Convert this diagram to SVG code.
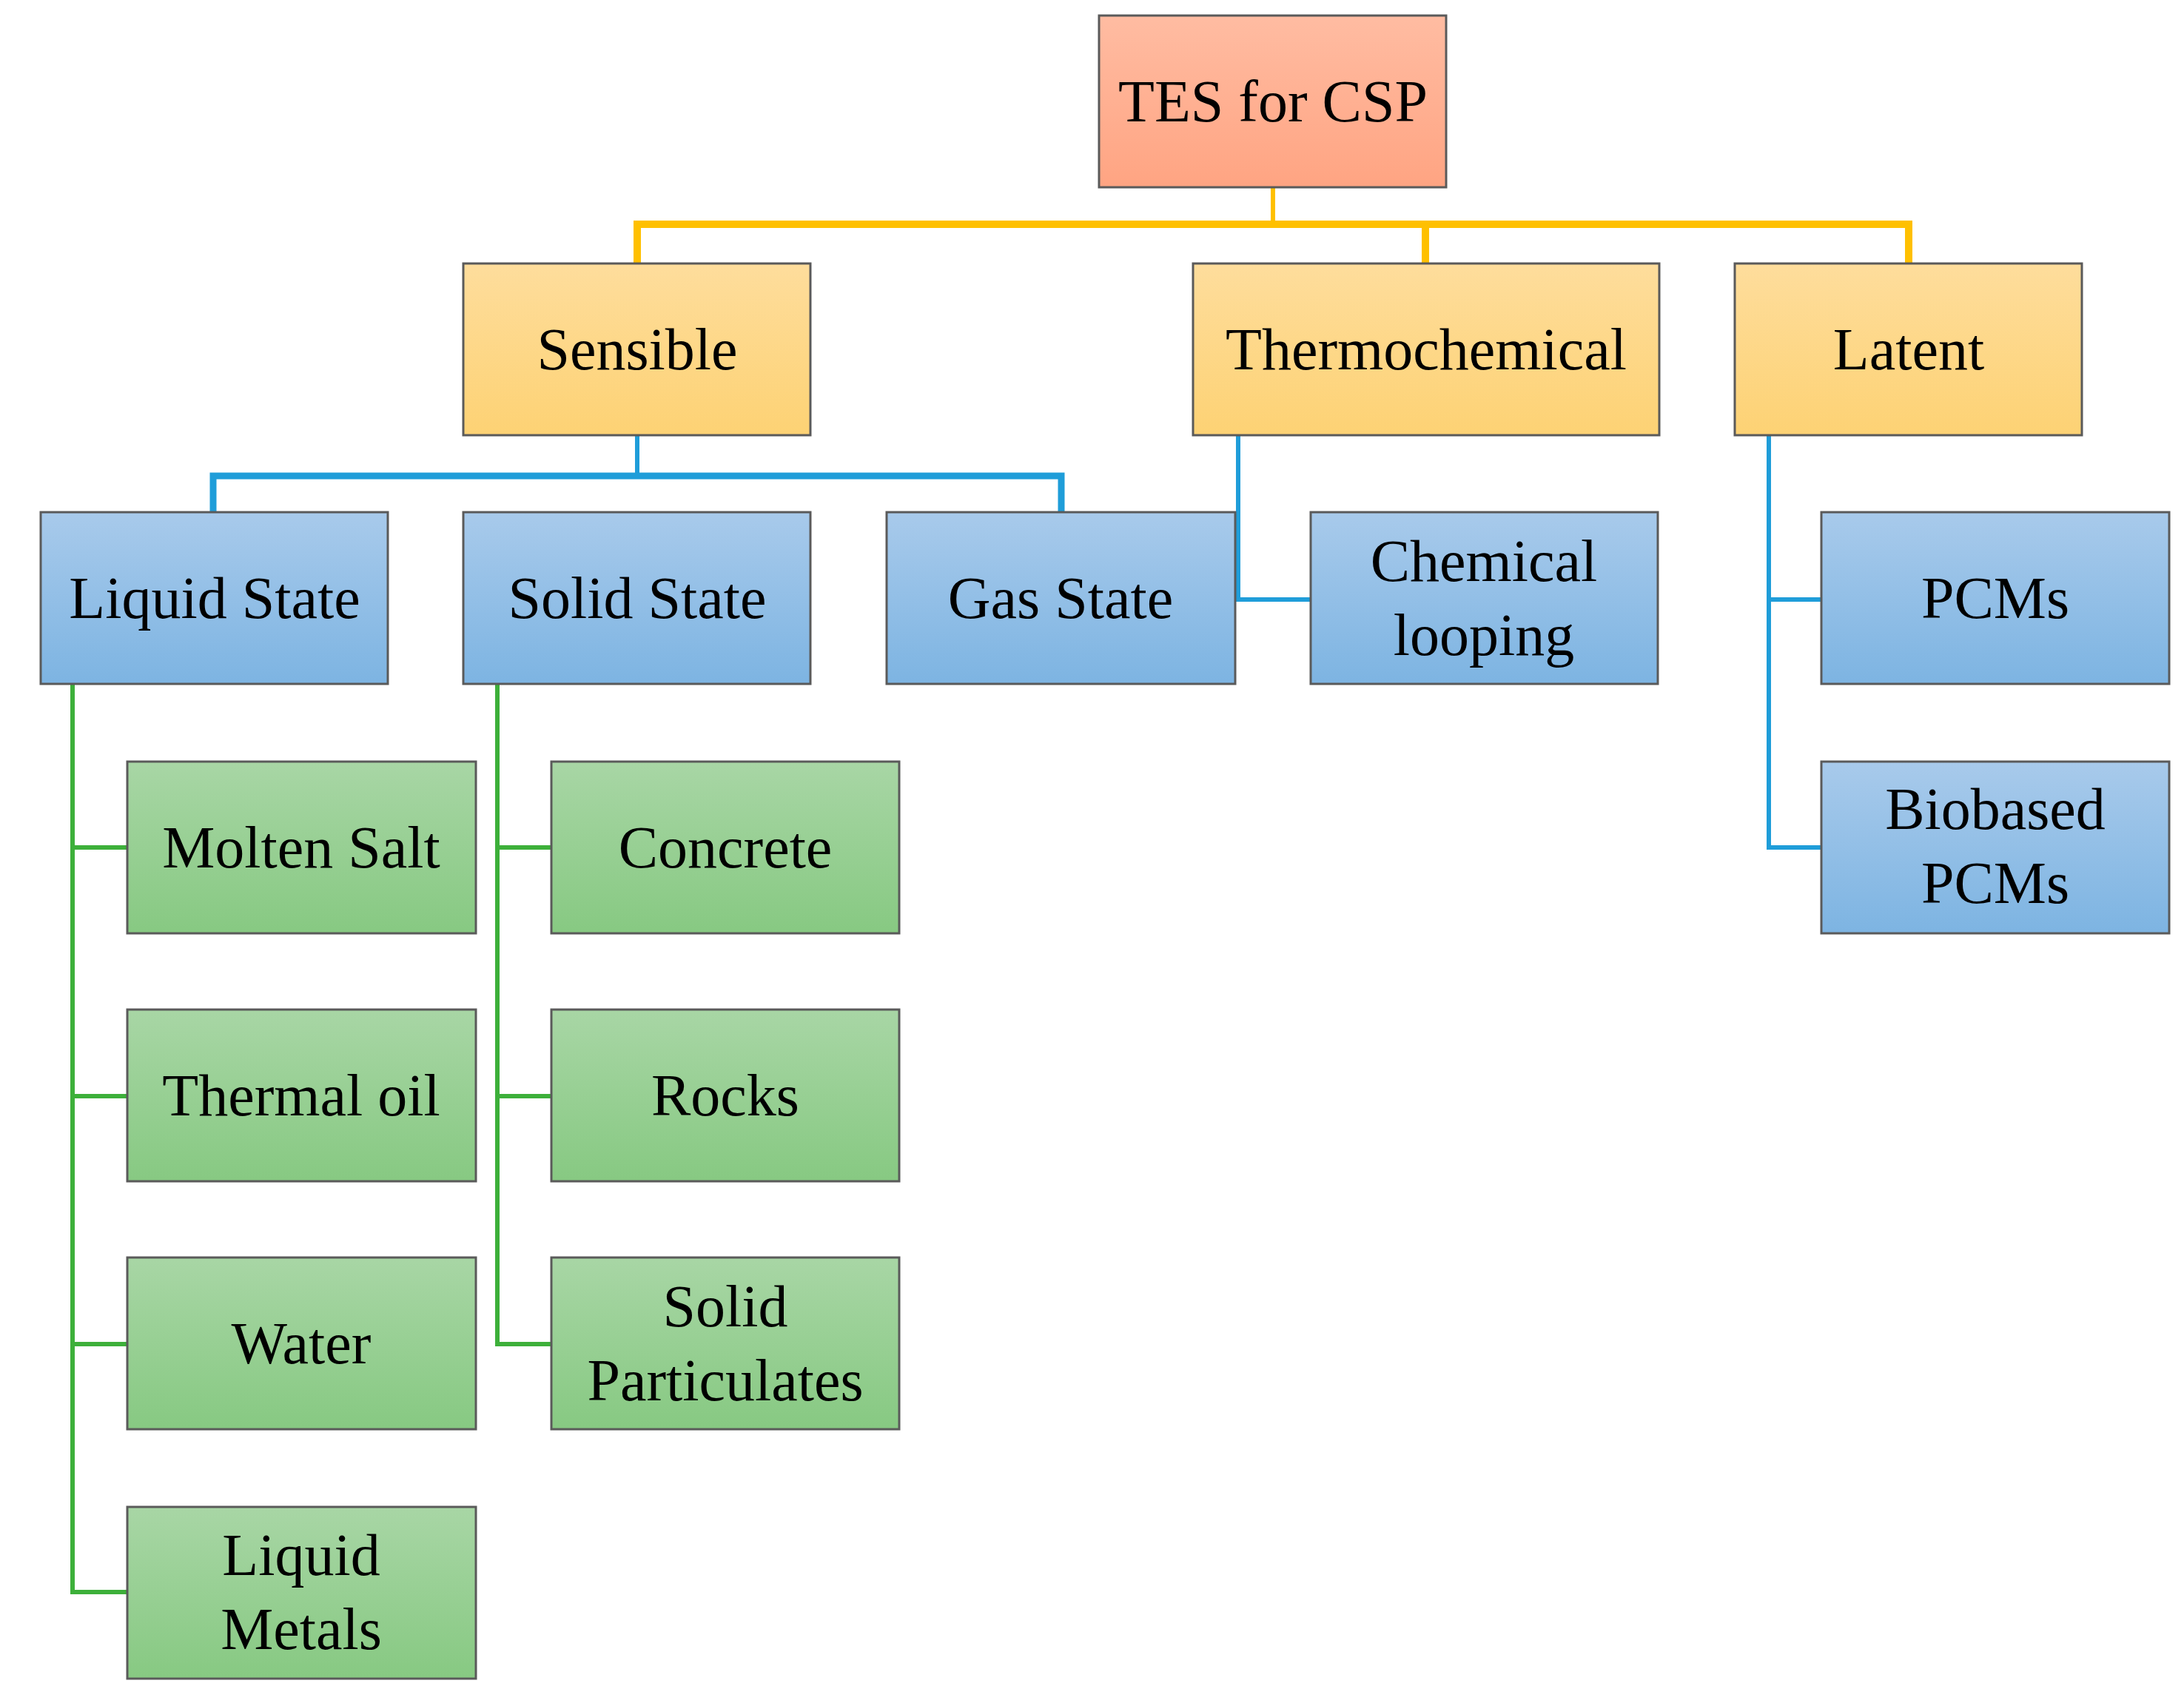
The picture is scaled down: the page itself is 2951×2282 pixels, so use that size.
<svg xmlns="http://www.w3.org/2000/svg" width="2951" height="2282" viewBox="0 0 2951 2282">
<defs>
<linearGradient id="gr" x1="0" y1="0" x2="0" y2="1"><stop offset="0" stop-color="#FFBCA2"/><stop offset="1" stop-color="#FFA482"/></linearGradient>
<linearGradient id="gy" x1="0" y1="0" x2="0" y2="1"><stop offset="0" stop-color="#FEDD9C"/><stop offset="1" stop-color="#FDD274"/></linearGradient>
<linearGradient id="gb" x1="0" y1="0" x2="0" y2="1"><stop offset="0" stop-color="#A8CAEB"/><stop offset="1" stop-color="#7DB4E2"/></linearGradient>
<linearGradient id="gg" x1="0" y1="0" x2="0" y2="1"><stop offset="0" stop-color="#A8D6A5"/><stop offset="1" stop-color="#87C982"/></linearGradient>
</defs>
<style>
rect{stroke:#5a5a5a;stroke-width:3}
text{font-family:"Liberation Serif",serif;font-size:80px;text-anchor:middle;fill:#000}
.c{fill:none;stroke-linejoin:miter}
.o{stroke:#FFC000}.b{stroke:#1F9DD9}.g{stroke:#3DB03A}
</style>
<rect width="2951" height="2282" fill="#fff" style="stroke:none"/>
<g id="connectors">
<path class="c o" stroke-width="6" d="M1720 254V303"/>
<path class="c o" stroke-width="10" d="M861 356V303H2579V356M1926 303V356"/>
<path class="c b" stroke-width="6" d="M861 588V643"/>
<path class="c b" stroke-width="9" d="M288 692V643H1434V692"/>
<path class="c b" stroke-width="6" d="M1673 588V810H1771"/>
<path class="c b" stroke-width="6" d="M2390 588V1145H2461M2390 810H2461"/>
<path class="c g" stroke-width="6" d="M98 925V2151H172M98 1145H172M98 1481H172M98 1816H172"/>
<path class="c g" stroke-width="6" d="M672 925V1816H745M672 1145H745M672 1481H745"/>
</g>
<g id="n-tes"><rect x="1485" y="21" width="469" height="232" fill="url(#gr)"/><text x="1720" y="164">TES for CSP</text></g>
<g id="n-sensible"><rect x="626" y="356" width="469" height="232" fill="url(#gy)"/><text x="861" y="499">Sensible</text></g>
<g id="n-thermo"><rect x="1612" y="356" width="630" height="232" fill="url(#gy)"/><text x="1927" y="499">Thermochemical</text></g>
<g id="n-latent"><rect x="2344" y="356" width="469" height="232" fill="url(#gy)"/><text x="2579" y="499">Latent</text></g>
<g id="n-liquid"><rect x="55" y="692" width="469" height="232" fill="url(#gb)"/><text x="290" y="835">Liquid State</text></g>
<g id="n-solid"><rect x="626" y="692" width="469" height="232" fill="url(#gb)"/><text x="861" y="835">Solid State</text></g>
<g id="n-gas"><rect x="1198" y="692" width="471" height="232" fill="url(#gb)"/><text x="1433" y="835">Gas State</text></g>
<g id="n-chem"><rect x="1771" y="692" width="469" height="232" fill="url(#gb)"/><text x="2005" y="785">Chemical</text><text x="2005" y="885">looping</text></g>
<g id="n-pcms"><rect x="2461" y="692" width="470" height="232" fill="url(#gb)"/><text x="2696" y="835">PCMs</text></g>
<g id="n-bio"><rect x="2461" y="1029" width="470" height="232" fill="url(#gb)"/><text x="2696" y="1120">Biobased</text><text x="2696" y="1220">PCMs</text></g>
<g id="n-molten"><rect x="172" y="1029" width="471" height="232" fill="url(#gg)"/><text x="407" y="1172">Molten Salt</text></g>
<g id="n-oil"><rect x="172" y="1364" width="471" height="232" fill="url(#gg)"/><text x="407" y="1507">Thermal oil</text></g>
<g id="n-water"><rect x="172" y="1699" width="471" height="232" fill="url(#gg)"/><text x="407" y="1842">Water</text></g>
<g id="n-metals"><rect x="172" y="2036" width="471" height="232" fill="url(#gg)"/><text x="407" y="2128">Liquid</text><text x="407" y="2228">Metals</text></g>
<g id="n-concrete"><rect x="745" y="1029" width="470" height="232" fill="url(#gg)"/><text x="980" y="1172">Concrete</text></g>
<g id="n-rocks"><rect x="745" y="1364" width="470" height="232" fill="url(#gg)"/><text x="980" y="1507">Rocks</text></g>
<g id="n-part"><rect x="745" y="1699" width="470" height="232" fill="url(#gg)"/><text x="980" y="1792">Solid</text><text x="980" y="1892">Particulates</text></g>
</svg>
